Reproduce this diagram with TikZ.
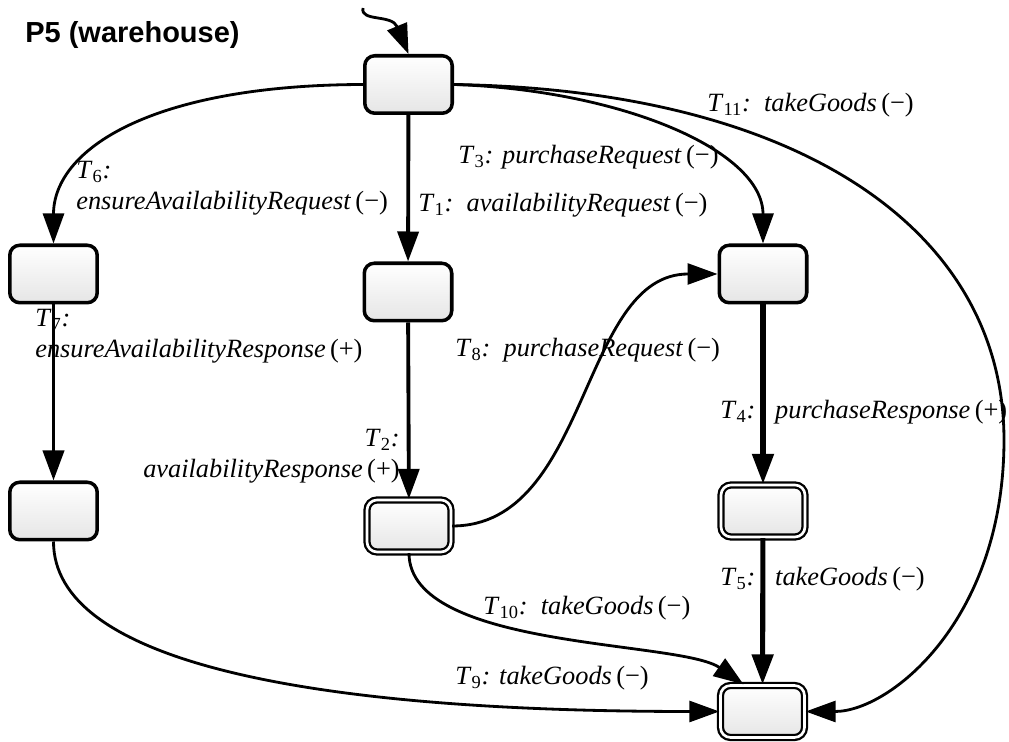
\documentclass[tikz,border=0pt]{standalone}
\usepackage{fontspec}
\setmainfont{Liberation Serif}
\newfontfamily\titlefont{Liberation Sans}
\usetikzlibrary{arrows.meta}

\tikzset{
  state/.style={rectangle, rounded corners=0.2cm, draw, line width=2pt,
    minimum width=1.75cm, minimum height=1.15cm, top color=white, bottom color=gray!20},
  final/.style={state, double, line width=1.3pt, double distance=1.5pt,
    minimum width=1.68cm, minimum height=1.04cm},
  trans/.style={-{Triangle[length=0.6cm,width=0.42cm]}, line width=1.6pt},
  strong/.style={trans, line width=2.2pt},
  lab/.style={inner sep=0pt, font=\fontsize{15}{17.5}\selectfont},
}
\newcommand{\tlab}[1]{\textit{T\/}\textsubscript{#1}\textit{:}}

\begin{document}
\begin{tikzpicture}[x=0.02cm,y=-0.02cm]
\useasboundingbox (0,0) rectangle (1009,742);

\node[font=\titlefont\bfseries\fontsize{16.5}{18}\selectfont, anchor=base west, inner sep=0pt] (title) at (25,43) {P5 (warehouse)};

\node[state] (start) at (408.5,84.5) {};
\node[state] (ensreq) at (53.5,274) {};
\node[state] (avreq) at (408,292) {};
\node[state] (purreq) at (763,274) {};
\node[state] (ensresp) at (53.5,511) {};
\node[final] (avresp) at (409,526) {};
\node[final] (purresp) at (763,511) {};
\node[final] (done) at (762.5,711.5) {};

\coordinate (init) at (363,8);
\draw[trans] (init) .. controls (360,22) and (392,14) .. (start.north);

\draw[trans] (start.west) .. controls (150,85) and (53.5,150) .. (ensreq.north);
\draw[strong] (start) -- (avreq);
\draw[trans] (start.east) .. controls (620,90) and (763,150) .. (purreq.north);
\draw[trans] (start.east) .. controls (800,90) and (1004,230) .. (1004,440)
  .. controls (1004,620) and (890,711.5) .. (done.east);
\draw[strong] (ensreq) -- (ensresp);
\draw[strong] (avreq) -- (avresp);
\draw[strong, line width=2.9pt] (purreq) -- (purresp);
\draw[trans] (avresp.east) .. controls (590,526) and (580,274) .. (purreq.west);
\draw[strong, line width=2.9pt] (purresp) -- (done);
\draw[trans] (avresp.south) .. controls (409,650) and (680,640) .. (done.125);
\draw[trans] (ensresp.south) .. controls (53.5,660) and (300,711.5) .. (done.west);

\node[lab, anchor=west] (t11) at (707,105) {\tlab{11}\ \ \textit{takeGoods}\,(−)};
\node[lab, anchor=west] (t3) at (458,157) {\tlab{3} \textit{purchaseRequest}\,(−)};
\node[lab, anchor=west, align=left] (t6) at (76,188) {\tlab{6}\\\textit{ensureAvailabilityRequest}\,(−)};
\node[lab, anchor=west] (t1) at (418,205) {\tlab{1}\ \ \textit{availabilityRequest}\,(−)};
\node[lab, anchor=west, align=left] (t7) at (35,336) {\tlab{7}\\\textit{ensureAvailabilityResponse}\,(+)};
\node[lab, anchor=west] (t8) at (455,350) {\tlab{8}\ \ \textit{purchaseRequest}\,(−)};
\node[lab, anchor=east, align=right] (t2) at (400,456) {\tlab{2}\\\textit{availabilityResponse}\,(+)};
\node[lab, anchor=west] (t4) at (720,412) {\tlab{4}\ \ \ \textit{purchaseResponse}\,(+)};
\node[lab, anchor=west] (t5) at (720,579) {\tlab{5}\ \ \ \textit{takeGoods}\,(−)};
\node[lab, anchor=west] (t10) at (483,608) {\tlab{10}\ \ \textit{takeGoods}\,(−)};
\node[lab, anchor=west] (t9) at (455,678) {\tlab{9} \textit{takeGoods}\,(−)};
\end{tikzpicture}
\end{document}
